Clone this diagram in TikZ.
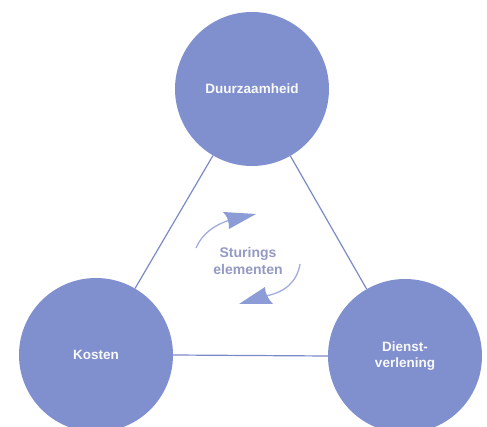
\documentclass[tikz,border=0pt]{standalone}
\usepackage{fontspec}
\setmainfont{Liberation Sans}
\definecolor{circ}{RGB}{128,144,206}
\definecolor{conn}{RGB}{122,138,200}
\definecolor{arr}{RGB}{160,173,222}
\definecolor{arrhead}{RGB}{140,156,214}
\definecolor{lbl}{RGB}{148,154,196}
\tikzset{
  topic/.style={circle, fill=circ, minimum size=154pt, inner sep=0pt, text=white!95!gray, font=\bfseries\fontsize{13.5}{15.5}\selectfont, align=center},
  link/.style={draw=conn, line width=1.2pt},
  tail/.style={draw=arr, line width=1.3pt},
  head/.style={fill=arrhead}
}
\begin{document}
\begin{tikzpicture}[x=1pt,y=-1pt]
\useasboundingbox (0,0) rectangle (487,427);
\fill[white] (0,0) rectangle (487,427);
\node[topic] (d) at (252,89) {Duurzaamheid};
\node[topic] (k) at (96,355) {Kosten};
\node[topic] (s) at (405,356) {Dienst-\\verlening};
\draw[link] (d) -- (k);
\draw[link] (d) -- (s);
\draw[link] (k.east) -- (s.west);
\node[text=lbl, font=\bfseries\fontsize{14}{17}\selectfont, align=center] (c) at (248,261) {Sturings\\elementen};
% upper arrow
\draw[tail] (196,248) .. controls (202,234) and (214,225) .. (230,220);
\fill[head] (256,214) -- (223,212) .. controls (227,216) and (229,220) .. (229,229) -- cycle;
% lower arrow
\draw[tail] (300,264) .. controls (297,282) and (285,292) .. (266,296);
\fill[head] (239,304) -- (265,287) .. controls (265,293) and (268,299) .. (273,304) -- cycle;
\end{tikzpicture}
\end{document}
